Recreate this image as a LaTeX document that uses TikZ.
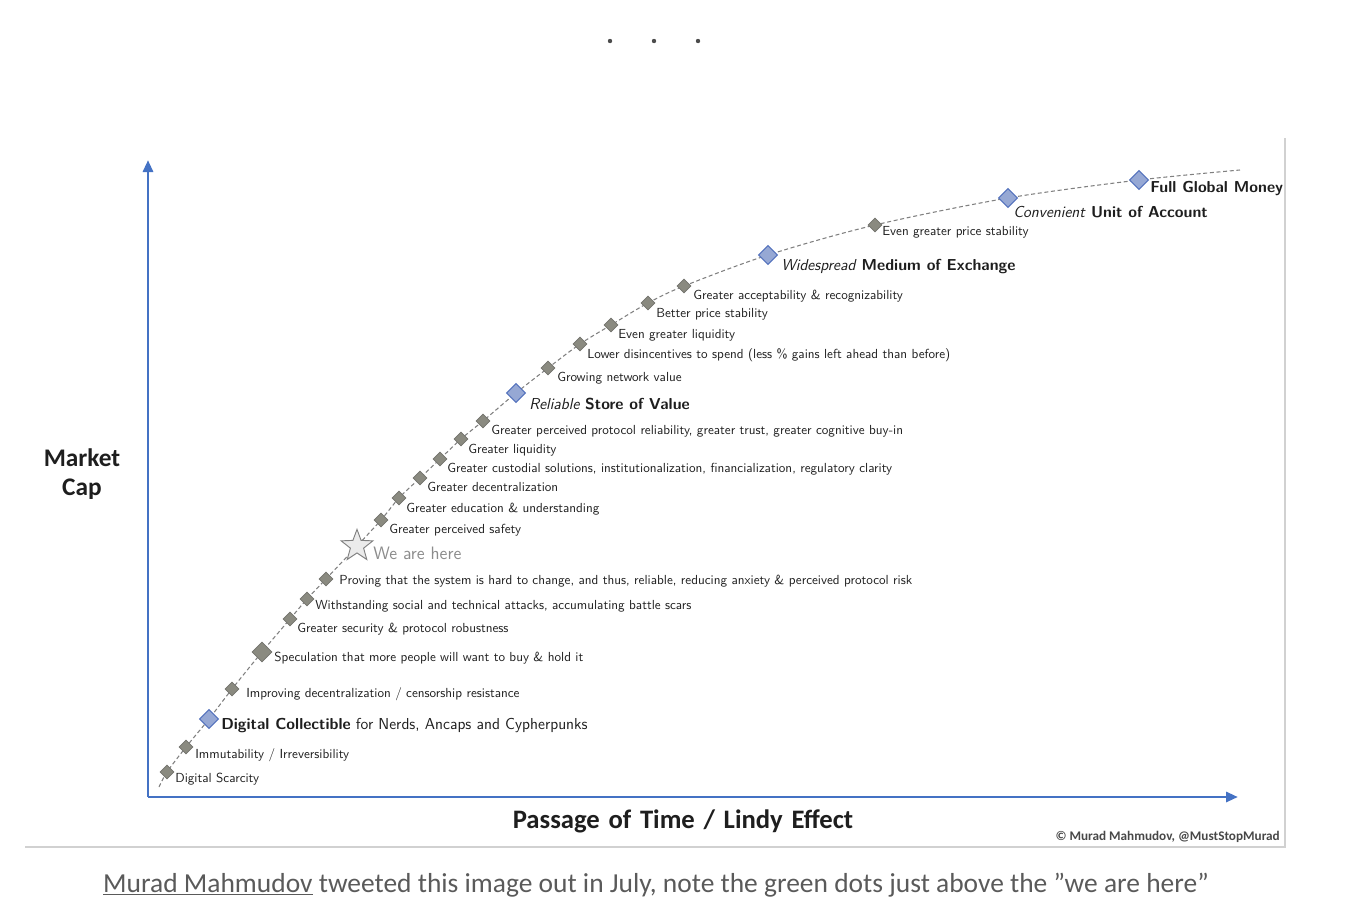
\documentclass[tikz,border=0pt]{standalone}
\usepackage{fontspec}
\newfontfamily\calfont{Carlito}
\usetikzlibrary{shapes.geometric,arrows.meta}
\definecolor{axisblue}{RGB}{68,114,196}
\definecolor{dgfill}{RGB}{138,138,128}
\definecolor{dgdraw}{RGB}{115,115,110}
\definecolor{bdfill}{RGB}{150,168,212}
\definecolor{bddraw}{RGB}{85,115,190}
\definecolor{txt}{RGB}{30,30,30}
\definecolor{captgray}{RGB}{90,90,90}
\tikzset{
  gd/.style={diamond, draw=dgdraw, fill=dgfill, line width=0.5pt, minimum size=10.5pt, inner sep=0pt},
  gdbig/.style={gd, minimum size=15pt},
  bd/.style={diamond, draw=bddraw, fill=bdfill, line width=0.8pt, minimum size=14.5pt, inner sep=0pt},
  lbl/.style={anchor=base west, inner sep=0pt, text=txt, font=\sffamily\fontsize{9.85}{11}\selectfont},
  biglbl/.style={anchor=base west, inner sep=0pt, text=txt, font=\sffamily\fontsize{11.9}{13}\selectfont},
  curve/.style={draw=black!50, line width=0.8pt, dash pattern=on 3pt off 2pt},
  axisline/.style={draw=axisblue, line width=2.2pt, -{Triangle[length=9pt,width=7.5pt]}},
  framegray/.style={draw=black!18, line width=1pt}
}
\begin{document}
\begin{tikzpicture}[x=0.75pt,y=-0.75pt]
\useasboundingbox (0,0) rectangle (1364,922);
% three dots
\fill[black!70] (610,41) circle (2.2);
\fill[black!70] (654,41) circle (2.2);
\fill[black!70] (698,41) circle (2.2);
% frame
\coordinate (fr1) at (1285,138);
\coordinate (fr2) at (1285,847);
\coordinate (fr3) at (25,847);
\draw[framegray] (fr1) -- (fr2) -- (fr3);
% axes
\coordinate (o) at (148,797);
\coordinate (ytip) at (148,160);
\coordinate (xtip) at (1238,797);
\draw[axisline] (o) -- (ytip);
\draw[axisline] (o) -- (xtip);
% curve points
\coordinate (p0) at (159,787);
\coordinate (p1) at (167,772);
\coordinate (p2) at (186,747);
\coordinate (p3) at (209,719);
\coordinate (p4) at (232,689);
\coordinate (p5) at (262,652);
\coordinate (p6) at (290,619);
\coordinate (p7) at (307,599);
\coordinate (p8) at (326,579);
\coordinate (p9) at (357,546);
\coordinate (p10) at (381,520);
\coordinate (p11) at (399,498);
\coordinate (p12) at (420,478);
\coordinate (p13) at (440,459);
\coordinate (p14) at (461,439);
\coordinate (p15) at (483,421);
\coordinate (p16) at (516,393);
\coordinate (p17) at (548,368);
\coordinate (p18) at (580,344);
\coordinate (p19) at (611,325);
\coordinate (p20) at (648,303);
\coordinate (p21) at (684,286);
\coordinate (p22) at (768,255);
\coordinate (p23) at (875,225);
\coordinate (p24) at (1008,198);
\coordinate (p25) at (1139,180);
\coordinate (pend) at (1240,170);
\draw[curve] plot[smooth, tension=0.5] coordinates {(p0) (p1) (p2) (p3) (p4) (p5) (p6) (p7) (p8) (p9) (p10) (p11) (p12) (p13) (p14) (p15) (p16) (p17) (p18) (p19) (p20) (p21) (p22) (p23) (p24) (p25) (pend)};
% markers
\node[gd] (d1) at (p1) {};
\node[gd] (d2) at (p2) {};
\node[bd] (d3) at (p3) {};
\node[gd] (d4) at (p4) {};
\node[gdbig] (d5) at (p5) {};
\node[gd] (d6) at (p6) {};
\node[gd] (d7) at (p7) {};
\node[gd] (d8) at (p8) {};
\node[star, star points=5, star point ratio=2.4, draw=black!50, fill=black!8, line width=0.7pt, minimum size=25pt, inner sep=0pt] (d9) at (p9) {};
\node[gd] (d10) at (p10) {};
\node[gd] (d11) at (p11) {};
\node[gd] (d12) at (p12) {};
\node[gd] (d13) at (p13) {};
\node[gd] (d14) at (p14) {};
\node[gd] (d15) at (p15) {};
\node[bd] (d16) at (p16) {};
\node[gd] (d17) at (p17) {};
\node[gd] (d18) at (p18) {};
\node[gd] (d19) at (p19) {};
\node[gd] (d20) at (p20) {};
\node[gd] (d21) at (p21) {};
\node[bd] (d22) at (p22) {};
\node[gd] (d23) at (p23) {};
\node[bd] (d24) at (p24) {};
\node[bd] (d25) at (p25) {};
% labels
\node[lbl] (l1) at (175,782) {Digital Scarcity};
\node[lbl] (l2) at (195,758) {Immutability / Irreversibility};
\node[biglbl] (l3) at (221,729) {\textbf{Digital Collectible} for Nerds, Ancaps and Cypherpunks};
\node[lbl] (l4) at (246,697) {Improving decentralization / censorship resistance};
\node[lbl] (l5) at (274,661) {Speculation that more people will want to buy \& hold it};
\node[lbl] (l6) at (297,632) {Greater security \& protocol robustness};
\node[lbl] (l7) at (315,609) {Withstanding social and technical attacks, accumulating battle scars};
\node[lbl] (l8) at (339,584) {Proving that the system is hard to change, and thus, reliable, reducing anxiety \& perceived protocol risk};
\node[anchor=base west, inner sep=0pt, text=black!45, font=\sffamily\fontsize{13.5}{15}\selectfont] (l9) at (373,559) {We are here};
\node[lbl] (l10) at (389,533) {Greater perceived safety};
\node[lbl] (l11) at (406,512) {Greater education \& understanding};
\node[lbl] (l12) at (427,491) {Greater decentralization};
\node[lbl] (l13) at (447,472) {Greater custodial solutions, institutionalization, financialization, regulatory clarity};
\node[lbl] (l14) at (468,453) {Greater liquidity};
\node[lbl] (l15) at (491,434) {Greater perceived protocol reliability, greater trust, greater cognitive buy-in};
\node[biglbl] (l16) at (529,409) {\textit{Reliable} \textbf{Store of Value}};
\node[lbl] (l17) at (557,381) {Growing network value};
\node[lbl] (l18) at (587,358) {Lower disincentives to spend (less \% gains left ahead than before)};
\node[lbl] (l19) at (618,338) {Even greater liquidity};
\node[lbl] (l20) at (656,317) {Better price stability};
\node[lbl] (l21) at (693,299) {Greater acceptability \& recognizability};
\node[biglbl] (l22) at (781,270) {\textit{Widespread} \textbf{Medium of Exchange}};
\node[lbl] (l23) at (882,235) {Even greater price stability};
\node[biglbl] (l24) at (1013,217) {\textit{Convenient} \textbf{Unit of Account}};
\node[biglbl] (l25) at (1150,192) {\textbf{Full Global Money}};
% axis titles
\node[align=center, text=txt, font=\calfont\bfseries\fontsize{19}{21.5}\selectfont] (ylab) at (82,474) {Market\\Cap};
\node[text=txt, font=\calfont\bfseries\fontsize{20}{22}\selectfont] (xlab) at (683,821) {Passage\hspace{2pt} of\hspace{2pt} Time\hspace{2pt} /\hspace{2pt} Lindy\hspace{2pt} Effect};
\node[anchor=east, inner sep=0pt, text=black!72, font=\calfont\bfseries\fontsize{9.9}{11}\selectfont] (copy) at (1280,837) {© Murad Mahmudov, @MustStopMurad};
% caption
\node[text=captgray, font=\calfont\fontsize{20.6}{24}\selectfont] (cap) at (656,885) {\underline{Murad Mahmudov} tweeted this image out in July, note the green dots just above the ”we are here”};
\end{tikzpicture}
\end{document}
